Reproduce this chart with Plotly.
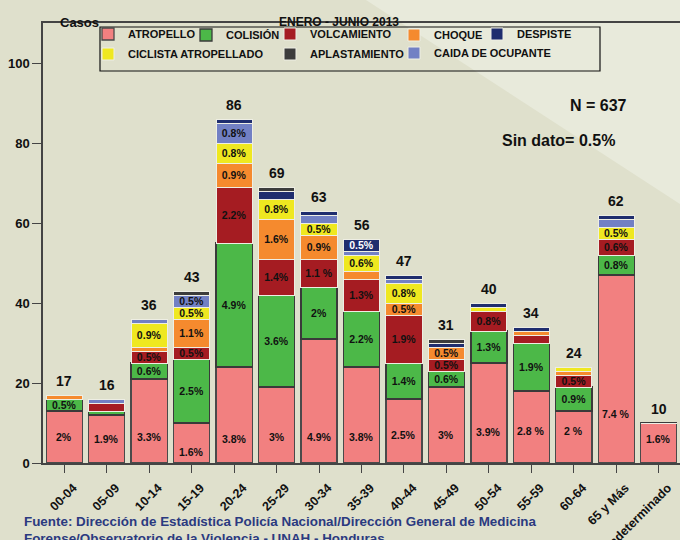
import plotly.graph_objects as go

categories = ["00-04", "05-09", "10-14", "15-19", "20-24", "25-29", "30-34", "35-39",
              "40-44", "45-49", "50-54", "55-59", "60-64", "65 y Más", "Indeterminado"]

atropello = [13, 12, 21, 10, 24, 19, 31, 24, 16, 19, 25, 18, 13, 47, 10]
colision = [3, 1, 4, 16, 31, 23, 13, 14, 9, 4, 8, 12, 6, 5, 0]
volcamiento = [0, 2, 3, 3, 14, 9, 7, 8, 12, 3, 5, 2, 3, 4, 0]
choque = [1, 0, 1, 7, 6, 10, 6, 2, 3, 3, 0, 1, 1, 0, 0]
ciclista = [0, 0, 6, 3, 5, 5, 3, 4, 5, 0, 1, 0, 1, 3, 0]
caida = [0, 1, 1, 3, 5, 0, 2, 1, 1, 0, 0, 0, 0, 2, 0]
despiste = [0, 0, 0, 0, 1, 2, 1, 3, 1, 1, 1, 1, 0, 1, 0]
aplastamiento = [0, 0, 0, 1, 0, 1, 0, 0, 0, 1, 0, 0, 0, 0, 0]

atropello_lbl = ["2%", "1.9%", "3.3%", "1.6%", "3.8%", "3%", "4.9%", "3.8%", "2.5%", "3%",
                 "3.9%", "2.8 %", "2 %", "7.4 %", "1.6%"]
colision_lbl = ["0.5%", "", "0.6%", "2.5%", "4.9%", "3.6%", "2%", "2.2%", "1.4%", "0.6%",
                "1.3%", "1.9%", "0.9%", "0.8%", ""]
volcamiento_lbl = ["", "", "0.5%", "0.5%", "2.2%", "1.4%", "1.1 %", "1.3%", "1.9%", "0.5%",
                   "0.8%", "", "0.5%", "0.6%", ""]
choque_lbl = ["", "", "", "1.1%", "0.9%", "1.6%", "0.9%", "", "0.5%", "0.5%", "", "", "", "", ""]
ciclista_lbl = ["", "", "0.9%", "0.5%", "0.8%", "0.8%", "0.5%", "0.6%", "0.8%", "", "", "", "", "0.5%", ""]
caida_lbl = ["", "", "", "0.5%", "0.8%", "", "", "", "", "", "", "", "", "", ""]
despiste_lbl = ["", "", "", "", "", "", "", "0.5%", "", "", "", "", "", "", ""]
aplastamiento_lbl = [""] * 15

# pixel shift of the ATROPELLO labels above the baseline (style only)
atropello_lbl_shift = [26, 24, 26, 11, 24, 26, 26, 26, 28, 28, 31, 32, 32, 49, 24]

FONT = "Liberation Sans, Arial, sans-serif"
BG = "#dfe0cc"

W, H = 680, 540
L, R, T, B = 43, 0, 23, 77
pw, ph = W - L - R, H - T - B


def px(x):
    return (x - L) / pw


def py(y):
    return (H - B - y) / ph


# name, values, labels, fill, outline, outline width, legend id, legend text x/y (px)
series = [
    ("ATROPELLO", atropello, None, "#f28080", "#4a4a4a", 1.3, "legend", 125, 34),
    ("COLISIÓN", colision, colision_lbl, "#4cb848", "#3a3a3a", 1.3, "legend2", 223, 35),
    ("VOLCAMIENTO", volcamiento, volcamiento_lbl, "#a51c22", "#eeeee4", 1, "legend3", 307, 34),
    ("CHOQUE", choque, choque_lbl, "#f58a2e", "#eeeee4", 1, "legend4", 431, 35),
    ("CICLISTA ATROPELLADO", ciclista, ciclista_lbl, "#efe820", "#eeeee4", 1, "legend6", 125, 54),
    ("CAIDA DE OCUPANTE", caida, caida_lbl, "#7280c4", "#eeeee4", 1, "legend8", 431, 53),
    ("DESPISTE", despiste, despiste_lbl, "#1f2d6e", "#eeeee4", 1, "legend5", 514, 34),
    ("APLASTAMIENTO", aplastamiento, aplastamiento_lbl, "#3c3c3c", "#eeeee4", 1, "legend7", 307, 54),
]

fig = go.Figure()
legends = {}
for name, vals, lbls, color, lcolor, lw, lg, lx, ly in series:
    tcol = ["white" if name == "DESPISTE" else "#111"] * len(vals)
    fig.add_trace(go.Bar(
        x=categories, y=vals, name=name,
        marker=dict(color=color, line=dict(color=lcolor, width=lw)),
        text=lbls, textposition="inside" if lbls else "none",
        insidetextanchor="middle", constraintext="none",
        textfont=dict(family=FONT, size=10.5, color=tcol, weight="bold"),
        legend=lg, showlegend=True, hoverinfo="skip",
    ))
    legends[lg] = dict(orientation="h", x=px(lx - 37), xanchor="left", y=py(ly), yanchor="middle",
                       bgcolor="rgba(0,0,0,0)", borderwidth=0, itemwidth=30, visible=True,
                       font=dict(family=FONT, size=11, color="#111", weight="bold"),
                       itemclick=False, itemdoubleclick=False)

totals = [sum(v) for v in zip(atropello, colision, volcamiento, choque, ciclista,
                              caida, despiste, aplastamiento)]

annotations = []
for c, t in zip(categories, totals):
    annotations.append(dict(x=c, y=t, yshift=14, text=f"<b>{t}</b>", showarrow=False,
                            font=dict(family=FONT, size=14, color="#111")))
for c, l, s in zip(categories, atropello_lbl, atropello_lbl_shift):
    annotations.append(dict(x=c, y=0, yshift=s, text=f"<b>{l}</b>", showarrow=False,
                            yanchor="middle",
                            font=dict(family=FONT, size=10.5, color="#111")))

annotations += [
    dict(x=px(58), y=py(13), xref="paper", yref="paper", text="<b>Casos</b>", showarrow=False,
         font=dict(family=FONT, size=13, color="#111")),
    dict(x=px(339), y=py(13), xref="paper", yref="paper", text="<b>ENERO - JUNIO 2013</b>",
         showarrow=False, font=dict(family=FONT, size=12, color="#111")),
    dict(x=px(629), y=py(95), xref="paper", yref="paper", text="<b>N = 637</b>", showarrow=False,
         font=dict(family=FONT, size=16, color="#111")),
    dict(x=px(617), y=py(130), xref="paper", yref="paper", text="<b>Sin dato= 0.5%</b>",
         showarrow=False, font=dict(family=FONT, size=16, color="#111")),
    dict(x=px(22), y=py(512), xref="paper", yref="paper", xanchor="left", yanchor="top",
         align="left",
         text="<b>Fuente: Dirección de Estadística Policía Nacional/Dirección General de Medicina"
              "<br>Forense/Observatorio de la Violencia - UNAH - Honduras</b>",
         showarrow=False, font=dict(family=FONT, size=13.4, color="#2b3a80")),
]

fig.update_layout(
    width=W, height=H,
    margin=dict(l=L, r=R, t=T, b=B, pad=0, autoexpand=False),
    paper_bgcolor=BG, plot_bgcolor="rgba(0,0,0,0)",
    barmode="stack", bargap=0.15, showlegend=True,
    font=dict(family=FONT, color="#111"),
    annotations=annotations,
    shapes=[
        dict(type="path", xref="paper", yref="paper", layer="below",
             path=f"M {px(366)} {py(0)} L {px(680)} {py(0)} L {px(680)} {py(204)} Z",
             fillcolor="#e8eadb", line=dict(width=0)),
        dict(type="rect", xref="paper", yref="paper", layer="above",
             x0=px(100), x1=px(600), y0=py(27), y1=py(71),
             line=dict(color="#111", width=1.2), fillcolor="rgba(0,0,0,0)"),
    ],
    xaxis=dict(type="category", showline=True, linecolor="#444", linewidth=1.5, mirror=True,
               ticks="outside", ticklen=8, tickcolor="#444", tickwidth=1.2, tickangle=-45,
               ticklabelshift=9, ticklabelstandoff=3,
               tickfont=dict(family=FONT, size=12.5, color="#111", weight="bold"),
               showgrid=False, range=[-0.5, 14.5], automargin=False),
    yaxis=dict(range=[0, 110], tickvals=[0, 20, 40, 60, 80, 100], showline=True,
               linecolor="#444", linewidth=1.5, mirror=True, ticks="outside", ticklen=9,
               tickcolor="#444", tickwidth=1.2, showgrid=False, zeroline=False,
               automargin=False,
               tickfont=dict(family=FONT, size=13, color="#111", weight="bold")),
    **legends,
)

fig.write_html("out.html", config={"displayModeBar": False},
               post_script="document.body.style.margin='0px';document.body.style.overflow='hidden';")
